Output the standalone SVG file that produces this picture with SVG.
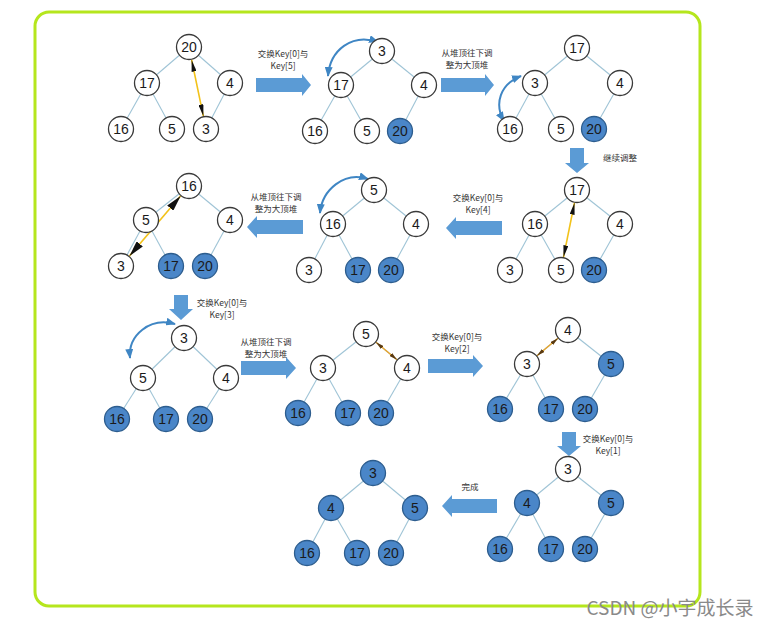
<svg xmlns="http://www.w3.org/2000/svg" width="771" height="626" viewBox="0 0 771 626">
<style>
.n circle{fill:#fff;stroke:#3a3a3a;stroke-width:1.3}
.n.f circle{fill:#4a86c8;stroke:#2d5d8e}
.n text{font-family:"Liberation Sans",Arial,sans-serif;font-size:14px;fill:#1a1a1a;text-anchor:middle}
.e line{stroke:#9fc4d6;stroke-width:1.1}
.ba{fill:#5b9bd5}
.lb{font-family:"Noto Sans CJK SC","Liberation Sans",sans-serif;font-size:8.5px;fill:#333;text-anchor:middle}
.cv{fill:none;stroke:#3f86c4;stroke-width:2}
.ye{stroke:#f2c21a;stroke-width:1.6}
.or{stroke:#e8a42a;stroke-width:1.4}
</style>
<defs>
<marker id="mb" viewBox="0 0 12 5" markerWidth="12" markerHeight="5" refX="12" refY="2.5" orient="auto-start-reverse" markerUnits="userSpaceOnUse"><path d="M0,0 L12,2.5 L0,5 z" fill="#111"/></marker>
<marker id="mB" viewBox="0 0 16 8" markerWidth="16" markerHeight="8" refX="16" refY="4" orient="auto-start-reverse" markerUnits="userSpaceOnUse"><path d="M0,0 L16,4 L0,8 z" fill="#111"/></marker>
<marker id="ms" viewBox="0 0 8 4" markerWidth="8" markerHeight="4" refX="8" refY="2" orient="auto-start-reverse" markerUnits="userSpaceOnUse"><path d="M0,0 L8,2 L0,4 z" fill="#5a3a10"/></marker>
<marker id="mc" viewBox="0 0 10 8" markerWidth="10" markerHeight="8" refX="9" refY="4" orient="auto-start-reverse" markerUnits="userSpaceOnUse"><path d="M0,0 L10,4 L0,8 z" fill="#3f86c4"/></marker>
</defs>
<rect x="35" y="12" width="665" height="594" rx="14" fill="#fff" stroke="#b5e61d" stroke-width="3"/>

<g id="connectors">
<g class="e">
<line x1="189" y1="47" x2="147" y2="83"/><line x1="189" y1="47" x2="230" y2="83"/><line x1="147" y1="83" x2="121" y2="129"/><line x1="147" y1="83" x2="172" y2="129"/><line x1="230" y1="83" x2="206" y2="129"/>
<line x1="382" y1="51" x2="341" y2="85"/><line x1="382" y1="51" x2="424" y2="85"/><line x1="341" y1="85" x2="315" y2="131"/><line x1="341" y1="85" x2="367" y2="131"/><line x1="424" y1="85" x2="400" y2="131"/>
<line x1="577" y1="48" x2="535" y2="83"/><line x1="577" y1="48" x2="620" y2="83"/><line x1="535" y1="83" x2="510" y2="129"/><line x1="535" y1="83" x2="561" y2="129"/><line x1="620" y1="83" x2="594" y2="129"/>
<line x1="577" y1="190" x2="535" y2="224"/><line x1="577" y1="190" x2="620" y2="224"/><line x1="535" y1="224" x2="510" y2="270"/><line x1="535" y1="224" x2="561" y2="270"/><line x1="620" y1="224" x2="594" y2="270"/>
<line x1="374" y1="190" x2="333" y2="224"/><line x1="374" y1="190" x2="416" y2="224"/><line x1="333" y1="224" x2="309" y2="270"/><line x1="333" y1="224" x2="358" y2="270"/><line x1="416" y1="224" x2="391" y2="270"/>
<line x1="189" y1="186" x2="146" y2="220"/><line x1="189" y1="186" x2="230" y2="220"/><line x1="146" y1="220" x2="121" y2="266"/><line x1="146" y1="220" x2="171" y2="266"/><line x1="230" y1="220" x2="205" y2="266"/>
<line x1="184" y1="338" x2="143" y2="378"/><line x1="184" y1="338" x2="226" y2="378"/><line x1="143" y1="378" x2="117" y2="419"/><line x1="143" y1="378" x2="166" y2="419"/><line x1="226" y1="378" x2="200" y2="419"/>
<line x1="366" y1="334" x2="323" y2="368"/><line x1="366" y1="334" x2="407" y2="368"/><line x1="323" y1="368" x2="298" y2="413"/><line x1="323" y1="368" x2="348" y2="413"/><line x1="407" y1="368" x2="381" y2="413"/>
<line x1="568" y1="330" x2="527" y2="364"/><line x1="568" y1="330" x2="611" y2="364"/><line x1="527" y1="364" x2="500" y2="409"/><line x1="527" y1="364" x2="551" y2="409"/><line x1="611" y1="364" x2="585" y2="409"/>
<line x1="568" y1="469" x2="527" y2="503"/><line x1="568" y1="469" x2="611" y2="503"/><line x1="527" y1="503" x2="500" y2="549"/><line x1="527" y1="503" x2="551" y2="549"/><line x1="611" y1="503" x2="585" y2="549"/>
<line x1="373" y1="473" x2="331" y2="508"/><line x1="373" y1="473" x2="415" y2="508"/><line x1="331" y1="508" x2="307" y2="553"/><line x1="331" y1="508" x2="357" y2="553"/><line x1="415" y1="508" x2="391" y2="553"/>
</g>
<polygon class="ba" points="256,78 302,78 302,74 311,85 302,96 302,92 256,92"/>
<polygon class="ba" points="441,78 485,78 485,74 494,85 485,96 485,92 441,92"/>
<polygon class="ba" points="570,148 584,148 584,163 589,163 577,173 565,163 570,163"/>
<polygon class="ba" points="502,221 456,221 456,217 446,228 456,239 456,235 502,235"/>
<polygon class="ba" points="303,220 257,220 257,216 247,227 257,238 257,234 303,234"/>
<polygon class="ba" points="174,295 188,295 188,309 193,309 181,320 169,309 174,309"/>
<polygon class="ba" points="241,361 286,361 286,357 296,368 286,379 286,375 241,375"/>
<polygon class="ba" points="428,359 473,359 473,355 483,366 473,377 473,373 428,373"/>
<polygon class="ba" points="562,432 576,432 576,446 581,446 569,456 557,446 562,446"/>
<polygon class="ba" points="497,499 452,499 452,495 442,506 452,517 452,513 497,513"/>
<line class="ye" x1="191.6" y1="59.7" x2="203.4" y2="116.3" marker-start="url(#mb)" marker-end="url(#mb)"/>
<line class="ye" x1="574.5" y1="202.7" x2="563.5" y2="257.3" marker-start="url(#mb)" marker-end="url(#mb)"/>
<line class="ye" x1="180.6" y1="195.9" x2="129.4" y2="256.1" marker-start="url(#mB)" marker-end="url(#mB)"/>
<line class="or" x1="376" y1="342.3" x2="397" y2="359.7" marker-start="url(#ms)" marker-end="url(#ms)"/>
<line class="or" x1="558" y1="338.3" x2="537" y2="355.7" marker-start="url(#ms)" marker-end="url(#ms)"/>
<path class="cv" d="M328,76 C330,50 352,33 378,42" marker-start="url(#mc)" marker-end="url(#mc)"/>
<path class="cv" d="M521,76 C500,84 494,104 504,121" marker-start="url(#mc)" marker-end="url(#mc)"/>
<path class="cv" d="M320,213 C322,190 344,171 368,179" marker-start="url(#mc)" marker-end="url(#mc)"/>
<path class="cv" d="M130,358 C128,335 150,317 175,324" marker-start="url(#mc)" marker-end="url(#mc)"/>
</g>

<g id="labels">
<text class="lb" x="283" y="57">交换Key[0]与</text><text class="lb" x="283" y="69">Key[5]</text>
<text class="lb" x="467" y="56">从堆顶往下调</text><text class="lb" x="467" y="68">整为大顶堆</text>
<text class="lb" x="620" y="161">继续调整</text>
<text class="lb" x="478" y="201">交换Key[0]与</text><text class="lb" x="478" y="213">Key[4]</text>
<text class="lb" x="276" y="200">从堆顶往下调</text><text class="lb" x="276" y="212">整为大顶堆</text>
<text class="lb" x="222" y="306">交换Key[0]与</text><text class="lb" x="222" y="318">Key[3]</text>
<text class="lb" x="266" y="345">从堆顶往下调</text><text class="lb" x="266" y="357">整为大顶堆</text>
<text class="lb" x="457" y="340">交换Key[0]与</text><text class="lb" x="457" y="352">Key[2]</text>
<text class="lb" x="608" y="442">交换Key[0]与</text><text class="lb" x="608" y="454">Key[1]</text>
<text class="lb" x="470" y="490">完成</text>
</g>

<g id="t1-20" class="n"><circle cx="189" cy="47" r="12.5"/><text x="189" y="52">20</text></g>
<g id="t1-17" class="n"><circle cx="147" cy="83" r="12.5"/><text x="147" y="88">17</text></g>
<g id="t1-4" class="n"><circle cx="230" cy="83" r="12.5"/><text x="230" y="88">4</text></g>
<g id="t1-16" class="n"><circle cx="121" cy="129" r="12.5"/><text x="121" y="134">16</text></g>
<g id="t1-5" class="n"><circle cx="172" cy="129" r="12.5"/><text x="172" y="134">5</text></g>
<g id="t1-3" class="n"><circle cx="206" cy="129" r="12.5"/><text x="206" y="134">3</text></g>
<g id="t2-3" class="n"><circle cx="382" cy="51" r="12.5"/><text x="382" y="56">3</text></g>
<g id="t2-17" class="n"><circle cx="341" cy="85" r="12.5"/><text x="341" y="90">17</text></g>
<g id="t2-4" class="n"><circle cx="424" cy="85" r="12.5"/><text x="424" y="90">4</text></g>
<g id="t2-16" class="n"><circle cx="315" cy="131" r="12.5"/><text x="315" y="136">16</text></g>
<g id="t2-5" class="n"><circle cx="367" cy="131" r="12.5"/><text x="367" y="136">5</text></g>
<g id="t2-20" class="n f"><circle cx="400" cy="131" r="12.5"/><text x="400" y="136">20</text></g>
<g id="t3-17" class="n"><circle cx="577" cy="48" r="12.5"/><text x="577" y="53">17</text></g>
<g id="t3-3" class="n"><circle cx="535" cy="83" r="12.5"/><text x="535" y="88">3</text></g>
<g id="t3-4" class="n"><circle cx="620" cy="83" r="12.5"/><text x="620" y="88">4</text></g>
<g id="t3-16" class="n"><circle cx="510" cy="129" r="12.5"/><text x="510" y="134">16</text></g>
<g id="t3-5" class="n"><circle cx="561" cy="129" r="12.5"/><text x="561" y="134">5</text></g>
<g id="t3-20" class="n f"><circle cx="594" cy="129" r="12.5"/><text x="594" y="134">20</text></g>
<g id="t4-17" class="n"><circle cx="577" cy="190" r="12.5"/><text x="577" y="195">17</text></g>
<g id="t4-16" class="n"><circle cx="535" cy="224" r="12.5"/><text x="535" y="229">16</text></g>
<g id="t4-4" class="n"><circle cx="620" cy="224" r="12.5"/><text x="620" y="229">4</text></g>
<g id="t4-3" class="n"><circle cx="510" cy="270" r="12.5"/><text x="510" y="275">3</text></g>
<g id="t4-5" class="n"><circle cx="561" cy="270" r="12.5"/><text x="561" y="275">5</text></g>
<g id="t4-20" class="n f"><circle cx="594" cy="270" r="12.5"/><text x="594" y="275">20</text></g>
<g id="t5-5" class="n"><circle cx="374" cy="190" r="12.5"/><text x="374" y="195">5</text></g>
<g id="t5-16" class="n"><circle cx="333" cy="224" r="12.5"/><text x="333" y="229">16</text></g>
<g id="t5-4" class="n"><circle cx="416" cy="224" r="12.5"/><text x="416" y="229">4</text></g>
<g id="t5-3" class="n"><circle cx="309" cy="270" r="12.5"/><text x="309" y="275">3</text></g>
<g id="t5-17" class="n f"><circle cx="358" cy="270" r="12.5"/><text x="358" y="275">17</text></g>
<g id="t5-20" class="n f"><circle cx="391" cy="270" r="12.5"/><text x="391" y="275">20</text></g>
<g id="t6-16" class="n"><circle cx="189" cy="186" r="12.5"/><text x="189" y="191">16</text></g>
<g id="t6-5" class="n"><circle cx="146" cy="220" r="12.5"/><text x="146" y="225">5</text></g>
<g id="t6-4" class="n"><circle cx="230" cy="220" r="12.5"/><text x="230" y="225">4</text></g>
<g id="t6-3" class="n"><circle cx="121" cy="266" r="12.5"/><text x="121" y="271">3</text></g>
<g id="t6-17" class="n f"><circle cx="171" cy="266" r="12.5"/><text x="171" y="271">17</text></g>
<g id="t6-20" class="n f"><circle cx="205" cy="266" r="12.5"/><text x="205" y="271">20</text></g>
<g id="t7-3" class="n"><circle cx="184" cy="338" r="12.5"/><text x="184" y="343">3</text></g>
<g id="t7-5" class="n"><circle cx="143" cy="378" r="12.5"/><text x="143" y="383">5</text></g>
<g id="t7-4" class="n"><circle cx="226" cy="378" r="12.5"/><text x="226" y="383">4</text></g>
<g id="t7-16" class="n f"><circle cx="117" cy="419" r="12.5"/><text x="117" y="424">16</text></g>
<g id="t7-17" class="n f"><circle cx="166" cy="419" r="12.5"/><text x="166" y="424">17</text></g>
<g id="t7-20" class="n f"><circle cx="200" cy="419" r="12.5"/><text x="200" y="424">20</text></g>
<g id="t8-5" class="n"><circle cx="366" cy="334" r="12.5"/><text x="366" y="339">5</text></g>
<g id="t8-3" class="n"><circle cx="323" cy="368" r="12.5"/><text x="323" y="373">3</text></g>
<g id="t8-4" class="n"><circle cx="407" cy="368" r="12.5"/><text x="407" y="373">4</text></g>
<g id="t8-16" class="n f"><circle cx="298" cy="413" r="12.5"/><text x="298" y="418">16</text></g>
<g id="t8-17" class="n f"><circle cx="348" cy="413" r="12.5"/><text x="348" y="418">17</text></g>
<g id="t8-20" class="n f"><circle cx="381" cy="413" r="12.5"/><text x="381" y="418">20</text></g>
<g id="t9-4" class="n"><circle cx="568" cy="330" r="12.5"/><text x="568" y="335">4</text></g>
<g id="t9-3" class="n"><circle cx="527" cy="364" r="12.5"/><text x="527" y="369">3</text></g>
<g id="t9-5" class="n f"><circle cx="611" cy="364" r="12.5"/><text x="611" y="369">5</text></g>
<g id="t9-16" class="n f"><circle cx="500" cy="409" r="12.5"/><text x="500" y="414">16</text></g>
<g id="t9-17" class="n f"><circle cx="551" cy="409" r="12.5"/><text x="551" y="414">17</text></g>
<g id="t9-20" class="n f"><circle cx="585" cy="409" r="12.5"/><text x="585" y="414">20</text></g>
<g id="t10-3" class="n"><circle cx="568" cy="469" r="12.5"/><text x="568" y="474">3</text></g>
<g id="t10-4" class="n f"><circle cx="527" cy="503" r="12.5"/><text x="527" y="508">4</text></g>
<g id="t10-5" class="n f"><circle cx="611" cy="503" r="12.5"/><text x="611" y="508">5</text></g>
<g id="t10-16" class="n f"><circle cx="500" cy="549" r="12.5"/><text x="500" y="554">16</text></g>
<g id="t10-17" class="n f"><circle cx="551" cy="549" r="12.5"/><text x="551" y="554">17</text></g>
<g id="t10-20" class="n f"><circle cx="585" cy="549" r="12.5"/><text x="585" y="554">20</text></g>
<g id="t11-3" class="n f"><circle cx="373" cy="473" r="12.5"/><text x="373" y="478">3</text></g>
<g id="t11-4" class="n f"><circle cx="331" cy="508" r="12.5"/><text x="331" y="513">4</text></g>
<g id="t11-5" class="n f"><circle cx="415" cy="508" r="12.5"/><text x="415" y="513">5</text></g>
<g id="t11-16" class="n f"><circle cx="307" cy="553" r="12.5"/><text x="307" y="558">16</text></g>
<g id="t11-17" class="n f"><circle cx="357" cy="553" r="12.5"/><text x="357" y="558">17</text></g>
<g id="t11-20" class="n f"><circle cx="391" cy="553" r="12.5"/><text x="391" y="558">20</text></g>

<text x="670" y="615" font-family="'Noto Sans CJK SC','Liberation Sans',sans-serif" font-size="19" fill="#8a8a8a" text-anchor="middle">CSDN @小宇成长录</text>
</svg>
